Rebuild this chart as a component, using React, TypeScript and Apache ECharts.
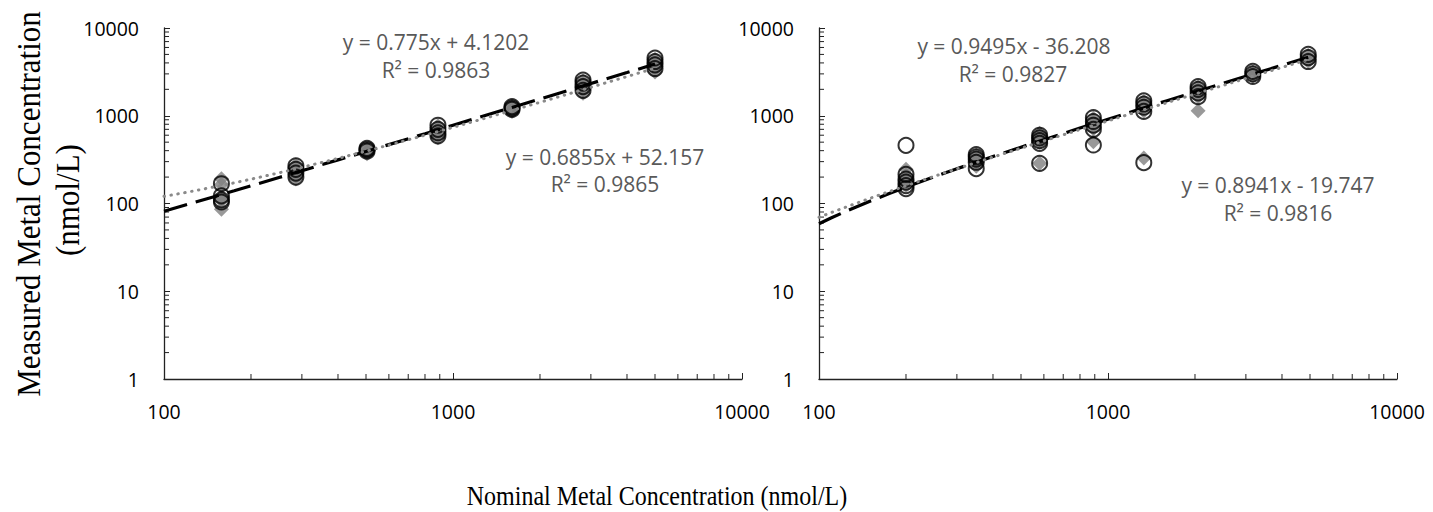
import React, { useEffect, useRef } from "react";
import * as echarts from "echarts";

// ---- data ----
const leftNominal = [158, 286, 504, 887, 1600, 2818, 5000];
const leftCircles = [
  [168, 122, 110, 104],
  [268, 245, 222, 200],
  [425, 410, 395],
  [780, 700, 640, 590],
  [1270, 1220, 1180],
  [2550, 2350, 2150, 1950],
  [4550, 4150, 3800, 3450],
];
const leftDiamonds = [
  [192, 165, 118, 108, 86],
  [275, 250, 225, 205, 190],
  [420, 405, 385, 370],
  [770, 700, 640, 580, 560],
  [1270, 1220, 1170, 1120],
  [2500, 2300, 2100, 1950, 1800],
  [4400, 4000, 3700, 3400, 3150],
];

const rightNominal = [200, 350, 580, 890, 1330, 2050, 3170, 4930];
const rightCircles = [
  [460, 215, 190, 175, 160, 148],
  [360, 340, 320, 295, 250],
  [600, 560, 520, 485, 287],
  [950, 860, 780, 700, 464],
  [1480, 1360, 1250, 1120, 292],
  [2150, 2000, 1820, 1650],
  [3200, 3000, 2800],
  [5000, 4600, 4150],
];
const rightDiamonds = [
  [245, 210, 190, 175, 160],
  [355, 335, 315, 290, 265],
  [630, 580, 540, 500, 287],
  [930, 850, 780, 710, 506],
  [1450, 1340, 1230, 1130, 330],
  [2120, 1980, 1800, 1650, 1142],
  [3150, 2950, 2800],
  [4900, 4500, 4150],
];

// trendline equations shown on the chart (y = a x + b)
const leftDashed = { a: 0.775, b: 4.1202 };
const leftDotted = { a: 0.6855, b: 52.157 };
const rightDashed = { a: 0.9495, b: -36.208 };
const rightDotted = { a: 0.8941, b: -19.747 };

const trendSampleX = [100, 110, 125, 150, 175, 200, 250, 300, 400, 500, 600, 800, 1000, 1300, 1600, 2000, 2500, 3000, 4000, 5000];

const xTickLabels = [100, 1000, 10000];
const yTickLabels = [1, 10, 100, 1000, 10000];

const leftEq = ["y = 0.775x + 4.1202", "R² = 0.9863", "y = 0.6855x + 52.157", "R² = 0.9865"];
const rightEq = ["y = 0.9495x - 36.208", "R² = 0.9827", "y = 0.8941x - 19.747", "R² = 0.9816"];

const yTitle1 = "Measured Metal Concentration";
const yTitle2 = "(nmol/L)";
const xTitle = "Nominal Metal Concentration (nmol/L)";

// ---- helpers ----
function pairs(nom: number[], vals: number[][]) {
  const out: number[][] = [];
  nom.forEach((x, i) => vals[i].forEach((y) => out.push([x, y])));
  return out;
}
function trend(t: { a: number; b: number }, maxX: number) {
  const xs = trendSampleX.filter((x) => x < maxX).concat([maxX]);
  return xs.map((x) => [x, t.a * x + t.b]);
}
const minorX: number[] = [];
[100, 1000].forEach((d) => { for (let k = 2; k <= 9; k++) minorX.push(k * d); });
const minorY: number[] = [];
[1, 10, 100, 1000].forEach((d) => { for (let k = 2; k <= 9; k++) minorY.push(k * d); });

const TICK_FONT = "Open Sans";
const EQ_COLOR = "#595959";

export default function App() {
  const ref = useRef<HTMLDivElement>(null);
  useEffect(() => {
    document.body.style.margin = "0";
    if (!ref.current) return;
    const chart = echarts.init(ref.current, undefined, { renderer: "svg" });

    const grids = [
      { left: 164, top: 28, width: 578, height: 351 },
      { left: 819, top: 28, width: 578, height: 351 },
    ];
    const mkX = (gi: number) => ({
      type: "log" as const,
      logBase: 10,
      min: xTickLabels[0],
      max: xTickLabels[xTickLabels.length - 1],
      gridIndex: gi,
      splitLine: { show: false },
      axisLine: { show: true, lineStyle: { color: "#222", width: 1.3 } },
      axisTick: { show: true, inside: true, length: 6, lineStyle: { color: "#222" } },
      axisLabel: {
        formatter: (v: number) => String(Math.round(v)),
        fontFamily: TICK_FONT,
        fontSize: 19.5,
        color: "#000",
        margin: 22,
      },
    });
    const mkY = (gi: number) => ({
      type: "log" as const,
      logBase: 10,
      min: yTickLabels[0],
      max: yTickLabels[yTickLabels.length - 1],
      gridIndex: gi,
      splitLine: { show: false },
      axisLine: { show: true, lineStyle: { color: "#222", width: 1.3 } },
      axisTick: { show: true, inside: true, length: 6, lineStyle: { color: "#222" } },
      axisLabel: {
        formatter: (v: number) => String(Math.round(v)),
        fontFamily: TICK_FONT,
        fontSize: 19.5,
        color: "#000",
        margin: 25,
      },
    });

    const minorSeries = (gi: number) => [
      {
        type: "custom",
        xAxisIndex: gi,
        yAxisIndex: gi,
        silent: true,
        clip: false,
        data: minorX.map((v) => [v, yTickLabels[0]]),
        renderItem: (_p: any, api: any) => {
          const p = api.coord([api.value(0), api.value(1)]);
          return { type: "line", shape: { x1: p[0], y1: p[1], x2: p[0], y2: p[1] - 5 }, style: { stroke: "#222", lineWidth: 1 } };
        },
      },
      {
        type: "custom",
        xAxisIndex: gi,
        yAxisIndex: gi,
        silent: true,
        clip: false,
        data: minorY.map((v) => [xTickLabels[0], v]),
        renderItem: (_p: any, api: any) => {
          const p = api.coord([api.value(0), api.value(1)]);
          return { type: "line", shape: { x1: p[0], y1: p[1], x2: p[0] + 5, y2: p[1] }, style: { stroke: "#222", lineWidth: 1 } };
        },
      },
    ];

    const panelSeries = (gi: number, nom: number[], circ: number[][], dia: number[][], dashed: any, dotted: any) => {
      const maxX = nom[nom.length - 1];
      return [
        {
          type: "scatter",
          xAxisIndex: gi,
          yAxisIndex: gi,
          symbol: "diamond",
          symbolSize: 15,
          itemStyle: { color: "#7f7f7f" },
          data: pairs(nom, dia),
          silent: true,
          z: 2,
        },
        {
          type: "scatter",
          xAxisIndex: gi,
          yAxisIndex: gi,
          symbol: "circle",
          symbolSize: 15,
          itemStyle: { color: "rgba(0,0,0,0)", borderColor: "#000", borderWidth: 2 },
          data: pairs(nom, circ),
          silent: true,
          z: 3,
        },
        {
          type: "line",
          xAxisIndex: gi,
          yAxisIndex: gi,
          showSymbol: false,
          symbol: "none",
          data: trend(dashed, maxX),
          lineStyle: { color: "#000", width: 3.2, type: [24, 9], cap: "butt" },
          silent: true,
          z: 4,
        },
        {
          type: "line",
          xAxisIndex: gi,
          yAxisIndex: gi,
          showSymbol: false,
          symbol: "none",
          data: trend(dotted, maxX),
          lineStyle: { color: "#8a8a8a", width: 3, type: [0.5, 6.5], cap: "round" },
          silent: true,
          z: 5,
        },
      ];
    };

    const txt = (s: string, x: number, y: number, size: number, color: string, family: string, rot = 0, sy = 1) => ({
      type: "text",
      x,
      y,
      rotation: rot,
      scaleY: sy,
      silent: true,
      style: {
        text: s,
        fill: color,
        font: `${size}px "${family}"`,
        fontSize: size,
        fontFamily: family,
        align: "center",
        verticalAlign: "middle",
        textAlign: "center",
        textVerticalAlign: "middle",
      },
    });

    chart.setOption({
      animation: false,
      grid: grids,
      xAxis: [mkX(0), mkX(1)],
      yAxis: [mkY(0), mkY(1)],
      series: [
        ...minorSeries(0),
        ...minorSeries(1),
        ...panelSeries(0, leftNominal, leftCircles, leftDiamonds, leftDashed, leftDotted),
        ...panelSeries(1, rightNominal, rightCircles, rightDiamonds, rightDashed, rightDotted),
      ],
      graphic: [
        txt(leftEq[0], 436, 42, 21, EQ_COLOR, TICK_FONT),
        txt(leftEq[1], 436, 70, 21, EQ_COLOR, TICK_FONT),
        txt(leftEq[2], 605, 157, 21, EQ_COLOR, TICK_FONT),
        txt(leftEq[3], 605, 184, 21, EQ_COLOR, TICK_FONT),
        txt(rightEq[0], 1014, 46, 21, EQ_COLOR, TICK_FONT),
        txt(rightEq[1], 1013, 74, 21, EQ_COLOR, TICK_FONT),
        txt(rightEq[2], 1278, 185, 21, EQ_COLOR, TICK_FONT),
        txt(rightEq[3], 1278, 213, 21, EQ_COLOR, TICK_FONT),
        txt(yTitle1, 28, 204, 31, "#000", "Liberation Serif", Math.PI / 2, 1.12),
        txt(yTitle2, 67, 200, 31, "#000", "Liberation Serif", Math.PI / 2, 1.12),
        txt(xTitle, 657, 496, 24, "#000", "Liberation Serif", 0, 1.1),
      ],
    });
    return () => chart.dispose();
  }, []);
  return <div ref={ref} style={{ width: 1433, height: 512 }} />;
}
